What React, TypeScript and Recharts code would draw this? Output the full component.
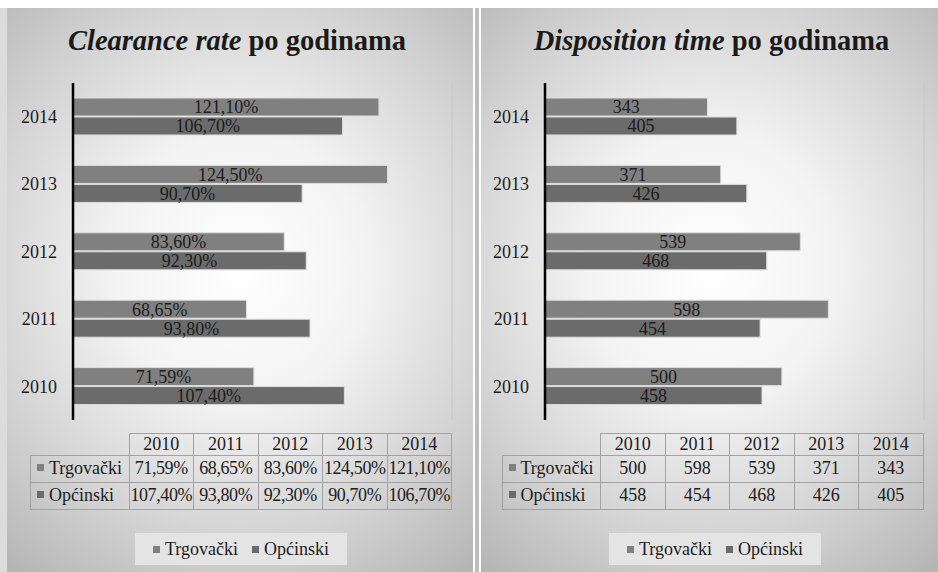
import React from 'react';
import { BarChart, Bar, XAxis, YAxis, CartesianGrid, LabelList, Legend } from 'recharts';

const years = ['2010', '2011', '2012', '2013', '2014'];
const seriesNames = ['Trgovački', 'Općinski'];

// Clearance rate (%)
const clearanceTrg = [71.59, 68.65, 83.6, 124.5, 121.1];
const clearanceOpc = [107.4, 93.8, 92.3, 90.7, 106.7];
const clearanceTicks = [0, 50, 100, 150];

// Disposition time (days)
const dispositionTrg = [500, 598, 539, 371, 343];
const dispositionOpc = [458, 454, 468, 426, 405];
const dispositionTicks = [0, 200, 400, 600, 800];

const FONT = '"Liberation Serif", "Times New Roman", serif';
const TRG_COLOR = '#808080';
const OPC_COLOR = '#6b6b6b';
const TEXT = '#1c1c1c';

const pct = (v: number) => v.toFixed(2).replace('.', ',') + '%';
const plain = (v: number) => String(v);

function buildRows(trg: number[], opc: number[]) {
  return years.map((y, i) => ({ year: y, trg: trg[i], opc: opc[i] }));
}

function LegendBox() {
  return (
    <div
      style={{
        background: '#e4e4e4',
        height: 32,
        display: 'flex',
        alignItems: 'center',
        justifyContent: 'center',
        gap: 14,
        fontFamily: FONT,
        fontSize: 18,
        color: TEXT,
      }}
    >
      {seriesNames.map((n, i) => (
        <span key={n} style={{ display: 'flex', alignItems: 'center', gap: 5 }}>
          <span style={{ width: 7, height: 7, background: i === 0 ? TRG_COLOR : OPC_COLOR, display: 'block' }} />
          {n}
        </span>
      ))}
    </div>
  );
}

function DataTable({ trg, opc, fmt }: { trg: number[]; opc: number[]; fmt: (v: number) => string }) {
  const border = '1.5px solid #a2a2a2';
  const cell: React.CSSProperties = { border, textAlign: 'center', padding: 0, overflow: 'visible' };
  const rows = [
    { name: seriesNames[0], vals: trg, color: TRG_COLOR },
    { name: seriesNames[1], vals: opc, color: OPC_COLOR },
  ];
  return (
    <table
      style={{
        borderCollapse: 'collapse',
        fontFamily: FONT,
        fontSize: 18,
        color: TEXT,
        tableLayout: 'fixed',
        width: 421,
      }}
    >
      <colgroup>
        <col style={{ width: 98.5 }} />
        {years.map((y) => (
          <col key={y} style={{ width: 64.5 }} />
        ))}
      </colgroup>
      <tbody>
        <tr style={{ height: 22 }}>
          <td style={{ border: 'none', padding: 0 }} />
          {years.map((y) => (
            <td key={y} style={cell}>
              {y}
            </td>
          ))}
        </tr>
        {rows.map((r) => (
          <tr key={r.name} style={{ height: 27 }}>
            <td style={{ border, padding: '0 0 0 6px', whiteSpace: 'nowrap', overflow: 'visible' }}>
              <span
                style={{ display: 'inline-block', width: 7, height: 7, background: r.color, marginRight: 5, verticalAlign: 'middle', position: 'relative', top: -2 }}
              />
              {r.name}
            </td>
            {r.vals.map((v, i) => (
              <td key={i} style={{ ...cell, whiteSpace: 'nowrap', letterSpacing: fmt === pct ? -0.4 : 0 }}>
                {fmt(v)}
              </td>
            ))}
          </tr>
        ))}
      </tbody>
    </table>
  );
}

function Panel({
  left,
  width,
  titleItalic,
  titleShift,
  tableLeft,
  trg,
  opc,
  ticks,
  fmt,
  marginLeftAxis,
  marginRight,
  tickMargin,
}: {
  left: number;
  width: number;
  titleItalic: string;
  titleShift: number;
  tableLeft: number;
  trg: number[];
  opc: number[];
  ticks: number[];
  fmt: (v: number) => string;
  marginLeftAxis: number;
  marginRight: number;
  tickMargin: number;
}) {
  const data = buildRows(trg, opc);
  const height = 564;
  return (
    <div
      style={{
        position: 'absolute',
        left,
        top: 8,
        width,
        height,
        background:
          'radial-gradient(ellipse 78% 68% at 50% 46%, #ffffff 0%, #f3f3f3 35%, #d2d2d2 72%, #b6b6b6 100%)',
        overflow: 'hidden',
      }}
    >
      <div
        style={{
          position: 'absolute',
          left: titleShift,
          width,
          top: 17,
          textAlign: 'center',
          fontFamily: FONT,
          fontWeight: 'bold',
          fontSize: 28.5,
          color: '#1a1a1a',
        }}
      >
        <i>{titleItalic}</i> po godinama
      </div>

      <div style={{ position: 'absolute', left: 0, top: 0 }}>
        <BarChart
          width={width}
          height={height}
          data={data}
          layout="vertical"
          barSize={18}
          barGap={1}
          margin={{ top: 75, right: marginRight, bottom: 152, left: 0 }}
        >
          <CartesianGrid horizontal={false} stroke="#c6c6c6" strokeWidth={1} />
          <XAxis
            type="number"
            domain={[ticks[0], ticks[ticks.length - 1]]}
            ticks={ticks}
            height={0}
            tick={false}
            tickLine={false}
            axisLine={false}
          />
          <YAxis
            type="category"
            dataKey="year"
            reversed
            width={marginLeftAxis}
            tickLine={false}
            tickSize={6}
            tickMargin={tickMargin}
            axisLine={{ stroke: '#000', strokeWidth: 2.5 }}
            tick={{ fill: TEXT, fontSize: 18, fontFamily: FONT }}
          />
          <Legend
            layout="vertical"
            align="center"
            verticalAlign="middle"
            wrapperStyle={{ left: 128, top: 525, width: 212, height: 32 }}
            content={() => <LegendBox />}
          />
          <Bar dataKey="trg" name={seriesNames[0]} fill={TRG_COLOR} stroke="#dedede" strokeWidth={1} isAnimationActive={false}>
            <LabelList dataKey="trg" position="center" formatter={(v: any) => fmt(Number(v))} fill={TEXT} fontSize={18} fontFamily={FONT} />
          </Bar>
          <Bar dataKey="opc" name={seriesNames[1]} fill={OPC_COLOR} stroke="#dedede" strokeWidth={1} isAnimationActive={false}>
            <LabelList dataKey="opc" position="center" formatter={(v: any) => fmt(Number(v))} fill={TEXT} fontSize={18} fontFamily={FONT} />
          </Bar>
        </BarChart>
      </div>

      <div style={{ position: 'absolute', left: tableLeft, top: 424.5 }}>
        <DataTable trg={trg} opc={opc} fmt={fmt} />
      </div>
    </div>
  );
}

export default function App() {
  return (
    <div style={{ position: 'fixed', left: 0, top: 0, width: 938, height: 572, background: '#ffffff', overflow: 'hidden' }}>
      <div style={{ position: 'absolute', left: 0, top: 8, width: 7, height: 564, background: '#dcdcdc' }} />
      <Panel
        left={7}
        width={466}
        titleItalic="Clearance rate"
        titleShift={-3}
        tableLeft={23}
        trg={clearanceTrg}
        opc={clearanceOpc}
        ticks={clearanceTicks}
        fmt={pct}
        marginLeftAxis={66}
        marginRight={21}
        tickMargin={10}
      />
      <div style={{ position: 'absolute', left: 475, top: 8, width: 4, height: 564, background: '#bdbdbd' }} />
      <Panel
        left={481}
        width={457}
        titleItalic="Disposition time"
        titleShift={2}
        tableLeft={20.5}
        trg={dispositionTrg}
        opc={dispositionOpc}
        ticks={dispositionTicks}
        fmt={plain}
        marginLeftAxis={64}
        marginRight={14}
        tickMargin={10}
      />
    </div>
  );
}
